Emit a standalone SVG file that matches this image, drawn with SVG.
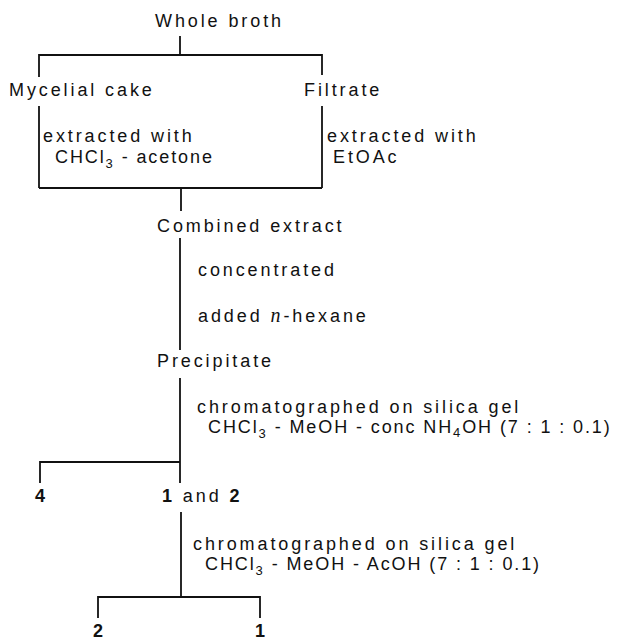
<svg xmlns="http://www.w3.org/2000/svg" width="620" height="640" viewBox="0 0 620 640">
<style>
text{font-family:"Liberation Sans",Arial,sans-serif;font-size:18px;letter-spacing:2.9px;fill:#111}
.f{letter-spacing:1.9px}
.b{font-weight:bold}
.sub{font-size:13px}
.it{font-family:"Liberation Serif",serif;font-style:italic;font-size:20px}
.c line{stroke:#111;stroke-width:1.8;fill:none}
</style>
<rect width="620" height="640" fill="#fff"/>
<g id="connectors" class="c">
<line x1="180" y1="36" x2="180" y2="55"/>
<line x1="39" y1="55" x2="322" y2="55"/>
<line x1="39" y1="54" x2="39" y2="77"/>
<line x1="322" y1="54" x2="322" y2="75"/>
<line x1="39" y1="106" x2="39" y2="188"/>
<line x1="322" y1="106" x2="322" y2="188"/>
<line x1="39" y1="188" x2="322" y2="188"/>
<line x1="181" y1="188" x2="181" y2="211"/>
<line x1="180" y1="238" x2="180" y2="350"/>
<line x1="180" y1="378" x2="180" y2="483"/>
<line x1="40" y1="462" x2="180" y2="462"/>
<line x1="40" y1="461" x2="40" y2="483"/>
<line x1="181" y1="512" x2="181" y2="597"/>
<line x1="98" y1="597" x2="260" y2="597"/>
<line x1="98" y1="596" x2="98" y2="618"/>
<line x1="260" y1="596" x2="260" y2="618"/>
</g>
<g id="whole-broth"><text x="155" y="27">Whole broth</text></g>
<g id="mycelial-cake"><text x="9" y="96">Mycelial cake</text></g>
<g id="filtrate"><text x="304" y="96">Filtrate</text></g>
<g id="step-mycelial"><text x="43" y="142">extracted with</text><text class="f" x="55" y="163">CHCl<tspan class="sub" dy="5">3</tspan><tspan dy="-5"> - acetone</tspan></text></g>
<g id="step-filtrate"><text x="327" y="142">extracted with</text><text x="333" y="163">EtOAc</text></g>
<g id="combined-extract"><text x="157" y="232">Combined extract</text></g>
<g id="step-conc"><text x="198" y="276">concentrated</text><text x="198" y="322">added <tspan class="it">n</tspan>-hexane</text></g>
<g id="precipitate"><text x="157" y="367">Precipitate</text></g>
<g id="step-chrom1"><text x="197" y="413">chromatographed on silica gel</text><text class="f" x="208" y="433">CHCl<tspan class="sub" dy="5">3</tspan><tspan dy="-5"> - MeOH - conc NH</tspan><tspan class="sub" dy="4">4</tspan><tspan dy="-4">OH (7 : 1 : 0.1)</tspan></text></g>
<g id="compound-4"><text class="b" x="35" y="502">4</text></g>
<g id="compounds-1-2"><text x="162" y="502"><tspan class="b">1</tspan> and <tspan class="b">2</tspan></text></g>
<g id="step-chrom2"><text x="193" y="550">chromatographed on silica gel</text><text class="f" x="205" y="570">CHCl<tspan class="sub" dy="5">3</tspan><tspan dy="-5"> - MeOH - AcOH (7 : 1 : 0.1)</tspan></text></g>
<g id="compound-2"><text class="b" x="93" y="637">2</text></g>
<g id="compound-1"><text class="b" x="255" y="637">1</text></g>
</svg>
